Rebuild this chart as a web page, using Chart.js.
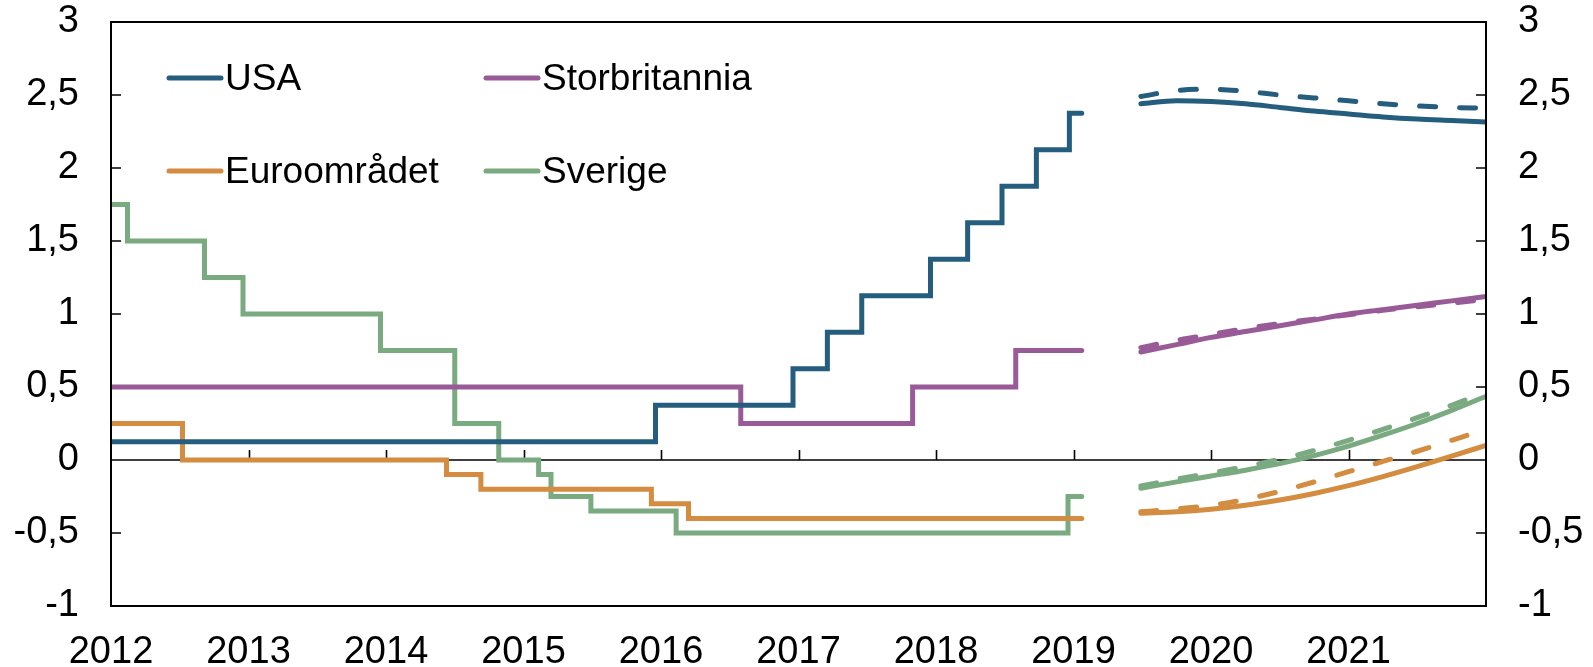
<!DOCTYPE html>
<html>
<head>
<meta charset="utf-8">
<script src="https://cdn.jsdelivr.net/npm/chart.js@4.4.1/dist/chart.umd.min.js"></script>
<style>
  html, body { margin: 0; padding: 0; background: #fff; }
  #wrap { width: 1593px; height: 667px; }
</style>
</head>
<body>
<div id="wrap"><canvas id="chart"></canvas></div>
<script>
// Styringsrenter (historikk, trappeserier)
const usaDates = [2012, 2015.96, 2016.96, 2017.21, 2017.46, 2017.96, 2018.23, 2018.48, 2018.73, 2018.97, 2019.06];
const usaRates = [0.125, 0.375, 0.625, 0.875, 1.125, 1.375, 1.625, 1.875, 2.125, 2.375, 2.375];

const ukDates = [2012, 2016.58, 2017.83, 2018.58, 2019.06];
const ukRates = [0.5, 0.25, 0.5, 0.75, 0.75];

const euroDates = [2012, 2012.52, 2014.44, 2014.69, 2015.93, 2016.2, 2019.06];
const euroRates = [0.25, 0, -0.1, -0.2, -0.3, -0.4, -0.4];

const sweDates = [2012, 2012.12, 2012.68, 2012.96, 2013.96, 2014.5, 2014.82, 2015.11, 2015.2, 2015.49, 2016.11, 2018.96, 2019.06];
const sweRates = [1.75, 1.5, 1.25, 1.0, 0.75, 0.25, 0, -0.1, -0.25, -0.35, -0.5, -0.25, -0.25];

// Terminrenter (heltrukket = nå, stiplet = forrige)
const fcDates = [2019.49, 2019.75, 2020, 2020.25, 2020.5, 2020.75, 2021, 2021.25, 2021.5, 2021.75, 2022];
const usaFc     = [2.44, 2.46, 2.455, 2.44, 2.415, 2.39, 2.37, 2.35, 2.335, 2.325, 2.315];
const usaFcPrev = [2.49, 2.53, 2.54, 2.525, 2.50, 2.48, 2.46, 2.44, 2.425, 2.415, 2.41];
const ukFc      = [0.74, 0.79, 0.84, 0.88, 0.92, 0.96, 1.0, 1.03, 1.06, 1.09, 1.12];
const ukFcPrev  = [0.77, 0.82, 0.86, 0.90, 0.935, 0.965, 0.995, 1.025, 1.05, 1.075, 1.10];
const euroFc     = [-0.365, -0.355, -0.337, -0.31, -0.274, -0.229, -0.176, -0.114, -0.046, 0.026, 0.10];
const euroFcPrev = [-0.355, -0.335, -0.31, -0.27, -0.215, -0.15, -0.08, -0.01, 0.06, 0.135, 0.21];
const sweFc     = [-0.194, -0.15, -0.11, -0.07, -0.025, 0.03, 0.095, 0.17, 0.25, 0.34, 0.437];
const sweFcPrev = [-0.178, -0.13, -0.09, -0.045, 0.005, 0.065, 0.135, 0.21, 0.29, 0.375, 0.465];

const yearTicks = [2012, 2013, 2014, 2015, 2016, 2017, 2018, 2019, 2020, 2021];

const names = ["USA", "Storbritannia", "Euroområdet", "Sverige"];
const colors = ["#255d7e", "#985b97", "#d38c40", "#7aaa80"];

const FONT = "'Liberation Sans', Arial, sans-serif";

function pts(xs, ys) {
  return xs.map((x, i) => ({ x: x, y: ys[i] }));
}

function stepSet(i, xs, ys) {
  return {
    data: pts(xs, ys), borderColor: colors[i], borderWidth: 5,
    stepped: true, pointRadius: 0, borderCapStyle: "round", borderJoinStyle: "miter"
  };
}

function fcSet(i, ys, dashed) {
  return {
    data: pts(fcDates, ys), borderColor: colors[i], borderWidth: 5,
    cubicInterpolationMode: "monotone", pointRadius: 0,
    borderCapStyle: "round", borderDash: dashed ? [16, 24] : []
  };
}

// ramme, nullinje, tick-merker og legende
const decor = {
  id: "decor",
  beforeDatasetsDraw(chart) {
    const { ctx, chartArea: a, scales } = chart;
    const y0 = scales.y.getPixelForValue(0);
    ctx.save();
    ctx.strokeStyle = "#000";
    ctx.lineWidth = 1.6;
    ctx.beginPath();
    ctx.moveTo(a.left, y0);
    ctx.lineTo(a.right, y0);
    yearTicks.forEach(v => {
      if (v === 2012) return;
      const x = Math.round(scales.x.getPixelForValue(v)) + 0.5;
      ctx.moveTo(x, y0);
      ctx.lineTo(x, y0 - 10);
    });
    scales.y.ticks.forEach(t => {
      const y = scales.y.getPixelForValue(t.value);
      ctx.moveTo(a.left, y);
      ctx.lineTo(a.left + 10, y);
      ctx.moveTo(a.right, y);
      ctx.lineTo(a.right - 10, y);
    });
    ctx.stroke();
    ctx.restore();
  },
  afterDraw(chart) {
    const { ctx, chartArea: a } = chart;
    ctx.save();
    ctx.strokeStyle = "#000";
    ctx.lineWidth = 2;
    ctx.strokeRect(a.left, a.top, a.right - a.left, a.bottom - a.top);

    const spots = [[169, 78], [486, 78], [169, 171], [486, 171]];
    ctx.font = "37px " + FONT;
    ctx.textBaseline = "alphabetic";
    ctx.textAlign = "left";
    spots.forEach((p, i) => {
      ctx.strokeStyle = colors[i];
      ctx.lineWidth = 5;
      ctx.lineCap = "round";
      ctx.beginPath();
      ctx.moveTo(p[0], p[1]);
      ctx.lineTo(p[0] + 52, p[1]);
      ctx.stroke();
      ctx.fillStyle = "#000";
      ctx.fillText(names[i], p[0] + 56, p[1] + 12);
    });
    ctx.restore();
  }
};

const comma = v => String(v).replace(".", ",");
const noPad = s => { s.paddingTop = 0; s.paddingBottom = 0; };

new Chart(document.getElementById("chart"), {
  type: "line",
  data: {
    datasets: [
      stepSet(0, usaDates, usaRates),
      stepSet(1, ukDates, ukRates),
      stepSet(2, euroDates, euroRates),
      stepSet(3, sweDates, sweRates),
      fcSet(0, usaFcPrev, true),
      fcSet(1, ukFcPrev, true),
      fcSet(2, euroFcPrev, true),
      fcSet(3, sweFcPrev, true),
      fcSet(0, usaFc, false),
      fcSet(1, ukFc, false),
      fcSet(2, euroFc, false),
      fcSet(3, sweFc, false)
    ]
  },
  options: {
    responsive: true,
    maintainAspectRatio: false,
    animation: false,
    layout: { padding: { top: 22 } },
    plugins: { legend: { display: false }, tooltip: { enabled: false } },
    scales: {
      x: {
        type: "linear", min: 2012, max: 2022,
        afterBuildTicks: s => { s.ticks = yearTicks.map(v => ({ value: v })); },
        afterFit: s => { s.height = 61; },
        grid: { display: false, drawTicks: false },
        border: { display: false },
        ticks: {
          color: "#000", font: { family: FONT, size: 38 }, padding: 24,
          maxRotation: 0, autoSkip: false,
          callback: v => String(v)
        }
      },
      y: {
        position: "left", min: -1, max: 3,
        afterFit: s => { s.width = 111; noPad(s); },
        grid: { display: false, drawTicks: false },
        border: { display: false },
        ticks: { stepSize: 0.5, color: "#000", font: { family: FONT, size: 38 }, padding: 32, callback: comma }
      },
      y2: {
        position: "right", min: -1, max: 3,
        afterFit: s => { s.width = 107; noPad(s); },
        grid: { display: false, drawTicks: false },
        border: { display: false },
        ticks: { stepSize: 0.5, color: "#000", font: { family: FONT, size: 38 }, padding: 32, callback: comma }
      }
    }
  },
  plugins: [decor]
});
</script>
</body>
</html>
